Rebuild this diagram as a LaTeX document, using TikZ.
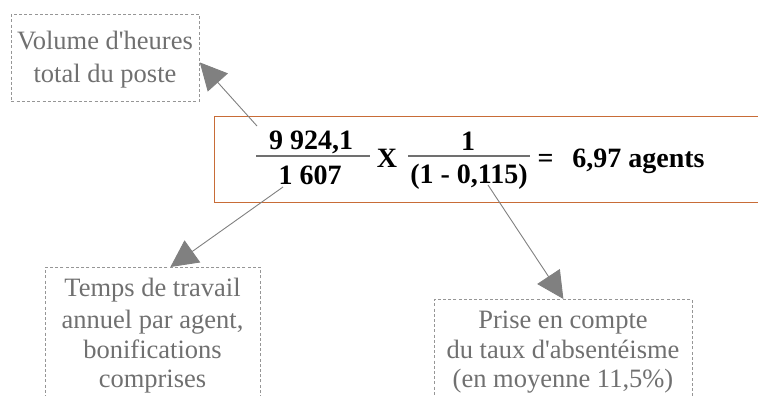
\documentclass[tikz,border=0pt]{standalone}
\usepackage{fontspec}
\setmainfont{Liberation Serif}[Ligatures=TeXOff]
\usetikzlibrary{arrows.meta}
\definecolor{boxorange}{RGB}{200,108,55}
\definecolor{txtgray}{RGB}{112,112,112}
\definecolor{arrgray}{RGB}{128,128,128}
\definecolor{dashgray}{RGB}{150,150,150}
\tikzset{
  notebox/.style={draw=dashgray, line width=0.8pt, dash pattern=on 3pt off 2.2pt,
    rectangle, inner sep=0pt, anchor=north west},
  noteline/.style={text=txtgray, font=\fontsize{26.5}{30}\selectfont, inner sep=0pt, anchor=base},
  eqtxt/.style={text=black, font=\fontsize{28}{32}\selectfont\bfseries, inner sep=0pt, anchor=base},
  fracbar/.style={draw=txtgray, line width=2.2pt},
  pointer/.style={draw=arrgray, line width=0.9pt,
    -{Triangle[length=27pt,width=27pt,fill=arrgray]}},
}
\begin{document}
\begin{tikzpicture}[x=1pt,y=-1pt]
\useasboundingbox (0,0) rectangle (758,396);
\clip (0,0) rectangle (758,396);

% main equation box
\node[draw=boxorange, line width=1.3pt, rectangle, inner sep=0pt, anchor=north west,
      minimum width=570pt, minimum height=86pt] (eqbox) at (214,116) {};

% equation parts
\node[eqtxt] (num1) at (311,149) {9 924,1};
\node[eqtxt] (den1) at (310,184) {1 607};
\draw[fracbar] (256,156) -- (370,156);
\node[eqtxt] (times) at (387,167) {X};
\node[eqtxt] (num2) at (468,150) {1};
\node[eqtxt] (den2) at (469,183) {(1 - 0,115)};
\draw[fracbar] (408,156) -- (530,156);
\node[eqtxt] (equal) at (545.5,167) {=};
\node[eqtxt] (result) at (638.5,167) {6,97 agents};

% note boxes
\node[notebox, minimum width=188pt, minimum height=87pt] (boxA) at (11,14) {};
\node[noteline] (a1) at (105,50) {Volume d'heures};
\node[noteline] (a2) at (105,82) {total du poste};

\node[notebox, minimum width=215pt, minimum height=160pt] (boxB) at (45,267) {};
\node[noteline] (b1) at (152.5,296) {Temps de travail};
\node[noteline] (b2) at (152.5,328) {annuel par agent,};
\node[noteline] (b3) at (152.5,358) {bonifications};
\node[noteline] (b4) at (152.5,387) {comprises};

\node[notebox, minimum width=258pt, minimum height=130pt] (boxC) at (434,299) {};
\node[noteline] (c1) at (563,328) {Prise en compte};
\node[noteline] (c2) at (563,358) {du taux d'absentéisme};
\node[noteline] (c3) at (563,387) {(en moyenne 11,5\%)};

% pointers
\coordinate (s1) at (257,126);
\coordinate (s2) at (283,187);
\coordinate (s3) at (488,185);
\draw[pointer] (s1) -- ([yshift=-4.5pt]boxA.east);
\draw[pointer] (s2) -- ([xshift=17.5pt]boxB.north);
\draw[pointer] (s3) -- (boxC.north);
\end{tikzpicture}
\end{document}
